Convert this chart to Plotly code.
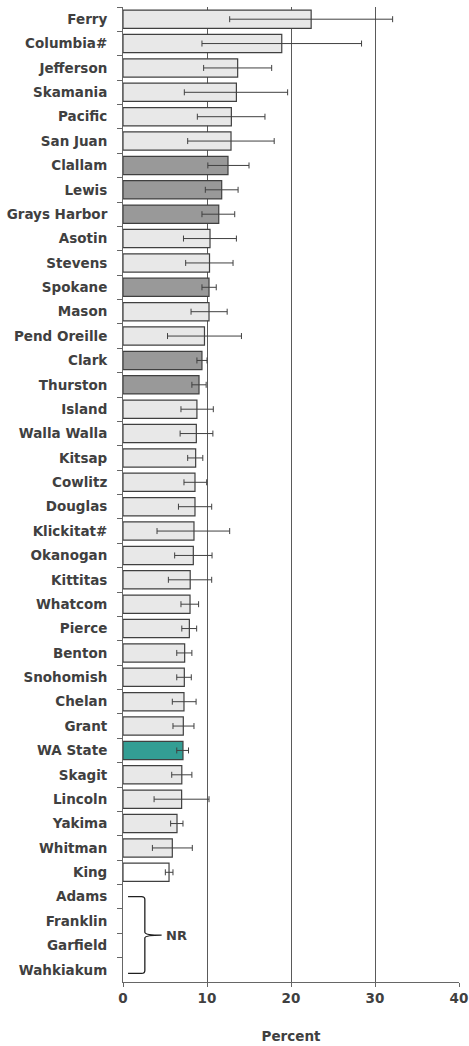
import plotly.graph_objects as go

counties = ["Ferry", "Columbia#", "Jefferson", "Skamania", "Pacific", "San Juan", "Clallam",
            "Lewis", "Grays Harbor", "Asotin", "Stevens", "Spokane", "Mason", "Pend Oreille",
            "Clark", "Thurston", "Island", "Walla Walla", "Kitsap", "Cowlitz", "Douglas",
            "Klickitat#", "Okanogan", "Kittitas", "Whatcom", "Pierce", "Benton", "Snohomish",
            "Chelan", "Grant", "WA State", "Skagit", "Lincoln", "Yakima", "Whitman", "King",
            "Adams", "Franklin", "Garfield", "Wahkiakum"]

percent = [22.4, 18.9, 13.65, 13.5, 12.9, 12.86, 12.5, 11.75, 11.4, 10.36, 10.3, 10.24, 10.24,
           9.7, 9.4, 9.05, 8.8, 8.73, 8.65, 8.57, 8.57, 8.45, 8.37, 8.0, 7.98, 7.9, 7.34, 7.3,
           7.26, 7.18, 7.14, 7.0, 6.98, 6.43, 5.87, 5.48, None, None, None, None]

ci_low = [12.7, 9.4, 9.6, 7.3, 8.85, 7.7, 10.1, 9.8, 9.4, 7.2, 7.46, 9.4, 8.1, 5.3, 8.8, 8.2,
          6.9, 6.8, 7.7, 7.26, 6.6, 4.05, 6.15, 5.4, 6.9, 7.0, 6.4, 6.4, 5.87, 5.95, 6.4, 5.8,
          3.7, 5.67, 3.5, 5.04, None, None, None, None]

ci_high = [32.1, 28.4, 17.7, 19.6, 16.9, 18.0, 15.0, 13.7, 13.3, 13.5, 13.1, 11.1, 12.4, 14.1,
           10.0, 9.9, 10.75, 10.7, 9.5, 9.96, 10.56, 12.7, 10.6, 10.56, 9.0, 8.77, 8.2, 8.13,
           8.7, 8.45, 7.8, 8.2, 10.24, 7.14, 8.25, 5.95, None, None, None, None]

# comparison group: "n" = not different, "s" = significantly different, "st" = state, "r" = reference
group = ["n", "n", "n", "n", "n", "n", "s", "s", "s", "n", "n", "s", "n", "n", "s", "s",
         "n", "n", "n", "n", "n", "n", "n", "n", "n", "n", "n", "n", "n", "n", "st", "n",
         "n", "n", "n", "r", "", "", "", ""]

not_reported = ["Adams", "Franklin", "Garfield", "Wahkiakum"]
nr_label = "NR"

x_ticks = [0, 10, 20, 30, 40]
x_title = "Percent"

fill_map = {"n": "#e8e8e8", "s": "#999999", "st": "#339e94", "r": "#ffffff", "": "#ffffff"}
colors = [fill_map[g] for g in group]

err_plus = [(h - p) if p is not None else None for p, h in zip(percent, ci_high)]
err_minus = [(p - l) if p is not None else None for p, l in zip(percent, ci_low)]

TXT = "#404040"
FONT = "DejaVu Sans"

fig = go.Figure()
fig.add_trace(go.Bar(
    y=counties, x=percent, orientation="h",
    marker=dict(color=colors, line=dict(color="#404040", width=1.2)),
    error_x=dict(type="data", array=err_plus, arrayminus=err_minus, symmetric=False,
                 color="#404040", thickness=1, width=3),
    hoverinfo="x+y", showlegend=False,
))

# brace for not-reported counties
i_top = counties.index(not_reported[0])
i_bot = counties.index(not_reported[-1])
y_top = i_top
y_bot = i_bot + 0.15
y_mid = (y_top + y_bot) / 2
bx0, bx1, bx2 = 0.6, 2.6, 4.6
rx, ry = 0.4, 0.12
path = (f"M {bx0},{y_top} L {bx1 - rx},{y_top} Q {bx1},{y_top} {bx1},{y_top + ry} "
        f"L {bx1},{y_mid - ry} Q {bx1},{y_mid} {bx2},{y_mid} "
        f"Q {bx1},{y_mid} {bx1},{y_mid + ry} L {bx1},{y_bot - ry} "
        f"Q {bx1},{y_bot} {bx1 - rx},{y_bot} L {bx0},{y_bot}")
fig.add_shape(type="path", path=path, xref="x", yref="y",
              line=dict(color="#202020", width=1.3))
fig.add_annotation(x=bx2 + 0.3, y=y_mid, xref="x", yref="y", text=nr_label,
                   showarrow=False, xanchor="left", yanchor="middle",
                   font=dict(family=FONT, size=13, color=TXT, weight="bold"))

fig.update_layout(
    width=469, height=1046,
    margin=dict(l=123, r=10, t=7, b=64, autoexpand=False),
    paper_bgcolor="white", plot_bgcolor="white",
    bargap=0.25,
    font=dict(family=FONT, size=13, color=TXT, weight="bold"),
    xaxis=dict(range=[0, 40], tickvals=x_ticks, showgrid=True, gridcolor="#5a5a5a",
               gridwidth=1, showline=True, linecolor="#666666", linewidth=1,
               ticks="outside", ticklen=4, tickcolor="#666666", zeroline=False,
               automargin=False,
               title=dict(text=x_title, standoff=26,
                          font=dict(family=FONT, size=13.5, color=TXT, weight="bold")),
               tickfont=dict(family=FONT, size=13.5, color=TXT, weight="bold"), fixedrange=True),
    yaxis=dict(type="category", categoryorder="array", categoryarray=counties,
               autorange="reversed", showline=True, linecolor="#666666", linewidth=1,
               ticks="outside", ticklen=5, tickcolor="#666666", tickson="boundaries",
               showgrid=False, ticklabelstandoff=12, automargin=False,
               tickfont=dict(family=FONT, size=13.5, color=TXT, weight="bold"), fixedrange=True),
)

fig.write_html("out.html", config={"displayModeBar": False},
               post_script="document.body.style.margin='0';")
